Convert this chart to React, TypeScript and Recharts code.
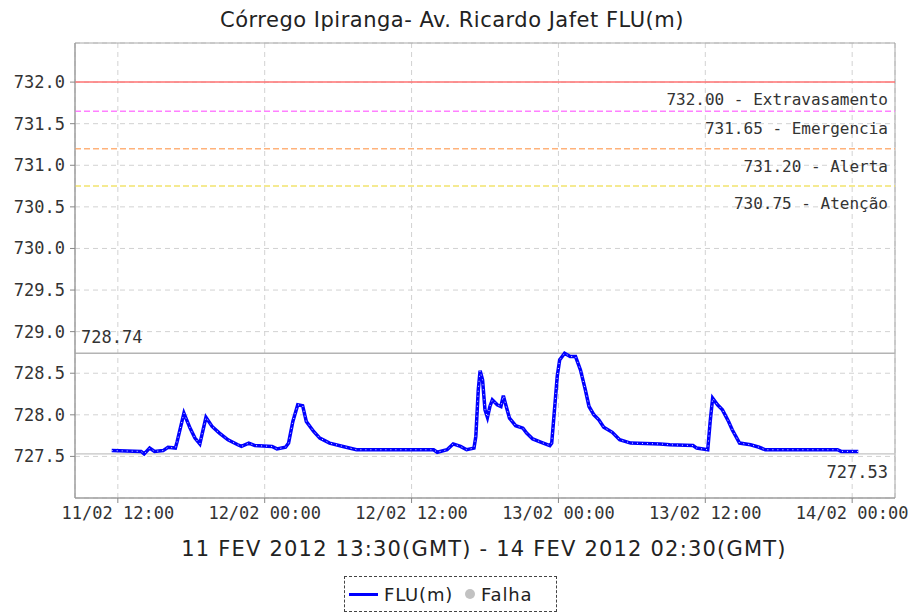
import React from 'react';
import { LineChart, Line, XAxis, YAxis, CartesianGrid, ReferenceLine, ReferenceArea } from 'recharts';

// hours since 11/02 00:00 (local)
const hours = [
  11.5, 13.9, 14.15, 14.6, 15.0, 15.7, 16.1, 16.7, 16.85, 17.4, 17.9, 18.3, 18.7, 19.2, 19.7,
  20.3, 21.0, 21.8, 22.1, 22.7, 23.2, 24.6, 25.0, 25.7, 25.95, 26.3, 26.7, 27.1, 27.4, 28.0,
  28.5, 29.3, 30.4, 31.5, 37.8, 38.1, 38.9, 39.4, 40.0, 40.5, 41.1, 41.25, 41.45, 41.6, 41.8,
  42.0, 42.2, 42.4, 42.6, 43.0, 43.3, 43.5, 43.7, 44.0, 44.5, 45.1, 45.4, 45.9, 46.6, 47.3,
  47.45, 47.7, 47.9, 48.1, 48.5, 48.96, 49.4, 49.8, 50.2, 50.5, 50.9, 51.3, 51.7, 52.4, 53.0,
  53.9, 56.3, 57.1, 59.0, 59.3, 60.2, 60.4, 60.6, 61.0, 61.4, 61.9, 62.2, 62.8, 63.7, 64.4,
  64.9, 70.8, 71.1, 72.5,
];
const flu = [
  727.57, 727.56, 727.53, 727.6, 727.56, 727.57, 727.61, 727.6, 727.68, 728.02, 727.84, 727.72, 727.65, 727.97, 727.86,
  727.78, 727.7, 727.64, 727.62, 727.66, 727.63, 727.62, 727.59, 727.61, 727.66, 727.92, 728.12, 728.11, 727.92, 727.8,
  727.72, 727.66, 727.62, 727.58, 727.58, 727.55, 727.58, 727.65, 727.62, 727.58, 727.6, 727.74, 728.3, 728.53, 728.42,
  728.06, 727.97, 728.1, 728.18, 728.12, 728.1, 728.23, 728.12, 727.96, 727.87, 727.84, 727.78, 727.71, 727.67, 727.63,
  727.66, 728.1, 728.46, 728.66, 728.74, 728.7, 728.7, 728.54, 728.3, 728.1, 728.0, 727.94, 727.85, 727.79, 727.7,
  727.66, 727.65, 727.64, 727.63, 727.6, 727.58, 727.92, 728.2, 728.12, 728.06, 727.92, 727.82, 727.66, 727.64, 727.61,
  727.58, 727.58, 727.56, 727.56,
];

const xTicks = [12, 24, 36, 48, 60, 72];
const xTickLabels = ['11/02 12:00', '12/02 00:00', '12/02 12:00', '13/02 00:00', '13/02 12:00', '14/02 00:00'];
const yTicks = [727.5, 728.0, 728.5, 729.0, 729.5, 730.0, 730.5, 731.0, 731.5, 732.0];

const thresholdValues = [732.0, 731.65, 731.2, 730.75];
const thresholdNames = ['Extravasamento', 'Emergencia', 'Alerta', 'Atenção'];
const maxValue = 728.74;
const minValue = 727.53;

const thresholdColors = ['#ff7272', '#ff80ff', '#ffb27a', '#f2e36e'];
const mono = 'DejaVu Sans Mono';
const sans = 'DejaVu Sans';

const chartData = hours.map((h, i) => ({ h, flu: flu[i] }));

const LineLabel = ({ viewBox, text, dy, align }: any) => {
  const x = align === 'left' ? viewBox.x + 6 : viewBox.x + viewBox.width - 7;
  return (
    <text
      x={x}
      y={viewBox.y + dy}
      textAnchor={align === 'left' ? 'start' : 'end'}
      fontFamily={mono}
      fontSize={align === 'thresh' ? 16 : 17}
      fill="#333"
    >
      {text}
    </text>
  );
};

export default function App() {
  return (
    <div style={{ position: 'relative', width: 909, height: 613, background: '#fff', overflow: 'hidden' }}>
      <style>{'body{margin:0}'}</style>
      <LineChart
        width={909}
        height={613}
        data={chartData}
        margin={{ top: 43, right: 14, left: 0, bottom: 85 }}
        style={{ position: 'absolute', left: 0, top: 0 }}
      >
        <CartesianGrid stroke="#d2d2d2" strokeDasharray="5 4" verticalPoints={undefined} />
        <XAxis
          type="number"
          dataKey="h"
          domain={[8.5, 75.5]}
          ticks={xTicks}
          tickFormatter={(v: number) => xTickLabels[xTicks.indexOf(v)]}
          height={30}
          tickSize={5}
          tickMargin={4}
          axisLine={{ stroke: '#999' }}
          tickLine={{ stroke: '#888' }}
          tick={{ fontFamily: mono, fontSize: 17, fill: '#333' }}
          allowDataOverflow
        />
        <YAxis
          type="number"
          domain={[727.0, 732.47]}
          ticks={yTicks}
          tickFormatter={(v: number) => v.toFixed(1)}
          width={75}
          tickSize={5}
          tickMargin={5}
          axisLine={{ stroke: '#999' }}
          tickLine={{ stroke: '#888' }}
          tick={{ fontFamily: mono, fontSize: 17, fill: '#333' }}
          allowDataOverflow
        />
        <ReferenceArea x1={8.5} x2={75.5} y1={727.0} y2={732.47} fill="none" stroke="#a8a8a8" />
        {thresholdValues.map((v, i) => (
          <ReferenceLine
            key={v}
            y={v}
            stroke={thresholdColors[i]}
            strokeWidth={1.5}
            strokeDasharray={i === 0 ? undefined : '6 3'}
            label={<LineLabel text={`${v.toFixed(2)} - ${thresholdNames[i]}`} dy={23} align="thresh" />}
          />
        ))}
        <ReferenceLine
          y={maxValue}
          stroke="#b4b4b4"
          strokeWidth={1.5}
          label={<LineLabel text={maxValue.toFixed(2)} dy={-10} align="left" />}
        />
        <ReferenceLine
          y={minValue}
          stroke="#c4c4c4"
          strokeWidth={1.2}
          label={<LineLabel text={minValue.toFixed(2)} dy={24} align="right" />}
        />
        <Line
          type="linear"
          dataKey="flu"
          stroke="#0000ff"
          strokeWidth={3.5}
          dot={false}
          isAnimationActive={false}
        />
        <Line
          type="linear"
          dataKey="flu"
          stroke="#ffffff"
          strokeWidth={0.9}
          strokeDasharray="1 4"
          dot={false}
          legendType="none"
          isAnimationActive={false}
        />
      </LineChart>
      <svg width={909} height={613} style={{ position: 'absolute', left: 0, top: 0, pointerEvents: 'none' }}>
        <text x={452} y={27} textAnchor="middle" fontFamily={sans} fontSize={21} letterSpacing={0.5} fill="#222">
          Córrego Ipiranga- Av. Ricardo Jafet FLU(m)
        </text>
        <text x={484} y={556} textAnchor="middle" fontFamily={sans} fontSize={21} letterSpacing={1.2} fill="#222">
          11 FEV 2012 13:30(GMT) - 14 FEV 2012 02:30(GMT)
        </text>
      </svg>
      <div
        style={{
          position: 'absolute',
          left: 344,
          top: 576,
          width: 213,
          height: 36,
          border: '1px dashed #444',
          boxSizing: 'border-box',
          display: 'flex',
          alignItems: 'center',
          fontFamily: sans,
          fontSize: 18,
          letterSpacing: 0.8,
          color: '#222',
        }}
      >
        <div style={{ width: 29, height: 3, background: '#0000ff', marginLeft: 4 }} />
        <span style={{ marginLeft: 6 }}>FLU(m)</span>
        <div style={{ width: 10, height: 10, borderRadius: 5, background: '#c2c2c2', marginLeft: 12 }} />
        <span style={{ marginLeft: 6 }}>Falha</span>
      </div>
    </div>
  );
}
